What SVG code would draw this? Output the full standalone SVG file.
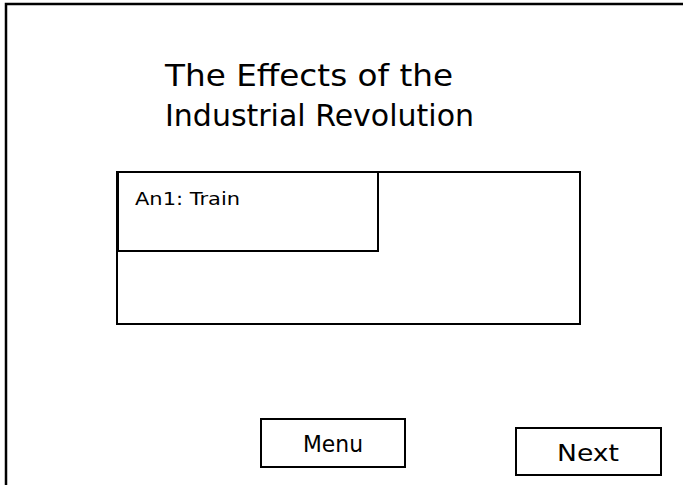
<svg xmlns="http://www.w3.org/2000/svg" width="683" height="485" viewBox="0 0 683 485">
<style>
.box{fill:#fff;stroke:#000;stroke-width:2}
text{font-family:"Comic Sans MS","DejaVu Sans","Noto Sans",sans-serif;fill:#000}
</style>
<rect x="0" y="0" width="683" height="485" fill="#fff"/>
<g id="frame"><rect x="6" y="4" width="690" height="500" fill="none" stroke="#000" stroke-width="2.5"/></g>
<g id="title">
<text x="165" y="86" font-size="31" textLength="288" lengthAdjust="spacingAndGlyphs">The Effects of the</text>
<text x="165" y="126" font-size="31" textLength="309" lengthAdjust="spacingAndGlyphs">Industrial Revolution</text>
</g>
<g id="panel"><rect class="box" x="117" y="172" width="463" height="152"/></g>
<g id="an1"><rect class="box" x="118" y="172" width="260" height="79"/>
<text x="135" y="205" font-size="18" textLength="105" lengthAdjust="spacingAndGlyphs">An1: Train</text></g>
<g id="menu"><rect class="box" x="261" y="419" width="144" height="48"/>
<text x="303" y="452" font-size="23" textLength="60" lengthAdjust="spacingAndGlyphs">Menu</text></g>
<g id="next"><rect class="box" x="516" y="428" width="145" height="47"/>
<text x="557" y="461" font-size="23" textLength="62" lengthAdjust="spacingAndGlyphs">Next</text></g>
<g id="connectors"/>
</svg>
